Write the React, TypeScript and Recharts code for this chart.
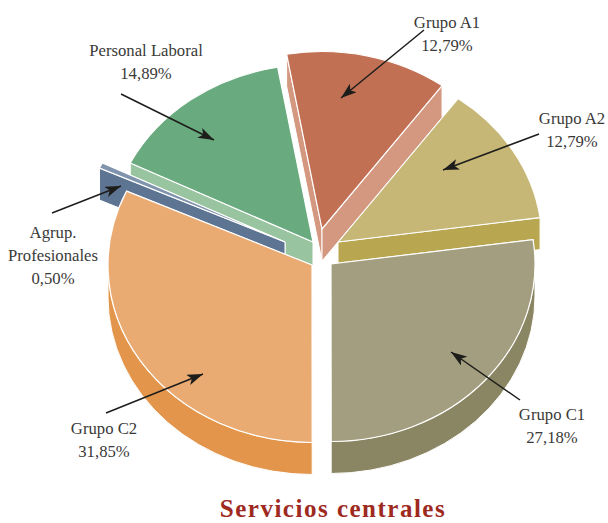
import React from 'react';
import { PieChart, Pie } from 'recharts';

// Painted back to front, so the order follows the pie round from Grupo A2
const groups = ['Grupo A2', 'Grupo A1', 'Personal Laboral', 'Agrup. Profesionales', 'Grupo C2', 'Grupo C1'];
const shares = [12.79, 12.79, 14.89, 0.5, 31.85, 27.18];
const labelLines = [
  ['Grupo A2', '12,79%'],
  ['Grupo A1', '12,79%'],
  ['Personal Laboral', '14,89%'],
  ['Agrup.', 'Profesionales', '0,50%'],
  ['Grupo C2', '31,85%'],
  ['Grupo C1', '27,18%'],
];

const topColors = ['#c6b777', '#c27054', '#69ab7e', '#8094ae', '#e9ab72', '#a39e7f'];
const wallColors = ['#b8a650', '#d49880', '#98c5a0', '#5e7493', '#e3964b', '#8a8562'];

// Apex of each exploded slice on the page
const apexX = [338, 322, 313, 285, 312, 331];
const apexY = [242, 229, 242, 242, 265, 264];

const chartData = groups.map((name, i) => ({ name, value: shares[i], index: i }));

const tilt = 0.87;
const depth = 32;
const rad = Math.PI / 180;

// Label anchors and arrows, same order as the groups
const labelPos = [
  [572, 124],
  [447, 28],
  [146, 56],
  [53, 238],
  [104, 434],
  [552, 420],
];
const arrows = [
  [539, 134, 443, 170],
  [424, 30, 341, 98],
  [121, 94, 214, 140],
  [52, 213, 121, 186],
  [106, 413, 203, 374],
  [520, 400, 451, 352],
];

// Tilted slice with its side walls, drawn from the angles the Pie hands over
const Slice3D = (props: any) => {
  const { outerRadius: r, startAngle, endAngle } = props;
  const i = props.payload?.index ?? props.index;
  const ax = apexX[i];
  const ay = apexY[i];
  const a0 = Math.min(startAngle, endAngle);
  const a1 = Math.max(startAngle, endAngle);
  const px = (a: number) => ax + r * Math.cos(a * rad);
  const py = (a: number, d = 0) => ay - r * tilt * Math.sin(a * rad) + d;
  const arc = (from: number, to: number, d: number, sweep: number) =>
    `A ${r} ${r * tilt} 0 ${Math.abs(to - from) > 180 ? 1 : 0} ${sweep} ${px(to)} ${py(to, d)}`;
  const radial = (a: number) =>
    `M ${ax} ${ay} L ${px(a)} ${py(a)} L ${px(a)} ${py(a, depth)} L ${ax} ${ay + depth} Z`;

  // the rim only shows on the front half of the ellipse
  const rimFrom = Math.max(a0, 180);
  const rimTo = Math.min(a1, 360);
  const wall = wallColors[i];
  // the wall whose rim sits higher up goes first, the hidden one must not cover the other
  const walls = py(a0) < py(a1) ? [a0, a1] : [a1, a0];
  return (
    <g>
      {walls.map((a) => (
        <path key={a} d={radial(a)} fill={wall} stroke="#fff" strokeWidth={1} />
      ))}
      {rimTo > rimFrom && (
        <path
          d={`M ${px(rimFrom)} ${py(rimFrom)} ${arc(rimFrom, rimTo, 0, 0)} L ${px(rimTo)} ${py(rimTo, depth)} ${arc(rimTo, rimFrom, depth, 1)} Z`}
          fill={wall}
          stroke="#fff"
          strokeWidth={1}
        />
      )}
      <path
        d={`M ${ax} ${ay} L ${px(a0)} ${py(a0)} ${arc(a0, a1, 0, 0)} Z`}
        fill={topColors[i]}
        stroke="#fff"
        strokeWidth={1.2}
      />
    </g>
  );
};

// Text and arrow per slice, the label layer sits above all the slices
const SliceLabel = ({ index }: any) => {
  const [x1, y1, x2, y2] = arrows[index];
  const [x, y] = labelPos[index];
  return (
    <g>
      <line x1={x1} y1={y1} x2={x2} y2={y2} stroke="#1d1d1b" strokeWidth={1.5} markerEnd="url(#head)" />
      {labelLines[index].map((line, j) => (
        <text
          key={line}
          x={x}
          y={y + j * 23}
          textAnchor="middle"
          fontFamily="'Liberation Serif', serif"
          fontSize={16.7}
          fill="#3a3a38"
        >
          {line}
        </text>
      ))}
    </g>
  );
};

export default function App() {
  return (
    <div style={{ position: 'absolute', left: 0, top: 0, width: 608, height: 523, background: '#fff' }}>
      <PieChart width={608} height={523} margin={{ top: 0, right: 0, bottom: 0, left: 0 }}>
        <defs>
          <marker id="head" markerWidth="17" markerHeight="11" refX="16" refY="5.5" orient="auto" markerUnits="userSpaceOnUse">
            <path d="M0 0 L16 5.5 L0 11 L4 5.5 Z" fill="#1d1d1b" />
          </marker>
        </defs>
        <Pie
          data={chartData}
          dataKey="value"
          nameKey="name"
          cx={320}
          cy={250}
          outerRadius={204}
          startAngle={7.9}
          endAngle={367.9}
          paddingAngle={0}
          shape={Slice3D}
          label={SliceLabel}
          labelLine={false}
          isAnimationActive={false}
        />
        <text
          x={333}
          y={517}
          textAnchor="middle"
          fontFamily="'Liberation Serif', serif"
          fontSize={25}
          letterSpacing={1.5}
          fontWeight="bold"
          fill="#9e2a1f"
        >
          Servicios centrales
        </text>
      </PieChart>
    </div>
  );
}
